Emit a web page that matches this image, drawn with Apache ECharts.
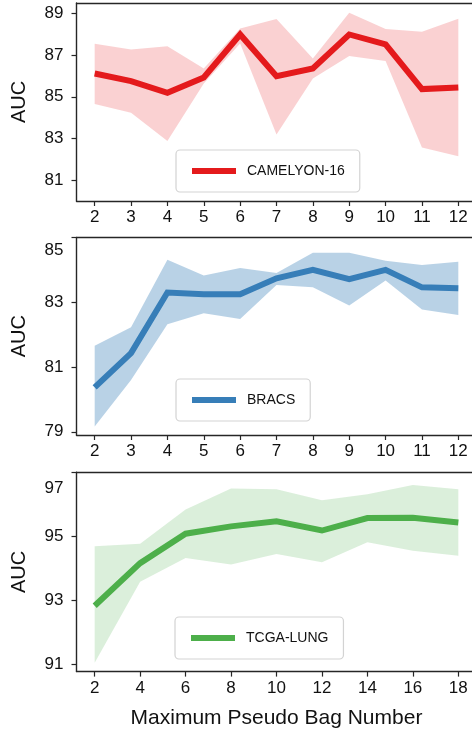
<!DOCTYPE html>
<html>
<head>
<meta charset="utf-8">
<script src="https://cdn.jsdelivr.net/npm/echarts@6/dist/echarts.min.js"></script>
<style>
html,body{margin:0;padding:0;background:#fff;}
#chart{width:472px;height:731px;}
</style>
</head>
<body>
<div id="chart"></div>
<script>
// ---- data ----
const xs12 = [2, 3, 4, 5, 6, 7, 8, 9, 10, 11, 12];
const camMean  = [86.12, 85.75, 85.19, 85.93, 87.99, 85.99, 86.36, 87.99, 87.51, 85.37, 85.45];
const camUpper = [87.54, 87.27, 87.43, 86.36, 88.28, 88.73, 86.84, 89.03, 88.25, 88.12, 88.74];
const camLower = [84.65, 84.23, 82.88, 85.64, 87.56, 83.19, 85.88, 86.96, 86.72, 82.57, 82.15];

const bracsMean  = [80.37, 81.43, 83.30, 83.25, 83.25, 83.74, 84.00, 83.71, 84.00, 83.46, 83.43];
const bracsUpper = [81.66, 82.23, 84.31, 83.83, 84.06, 83.90, 84.53, 84.53, 84.28, 84.15, 84.25];
const bracsLower = [79.16, 80.60, 82.32, 82.66, 82.48, 83.53, 83.46, 82.90, 83.67, 82.78, 82.61];

const xs18 = [2, 4, 6, 8, 10, 12, 14, 16, 18];
const lungMean  = [92.83, 94.16, 95.08, 95.31, 95.47, 95.18, 95.57, 95.58, 95.43];
const lungUpper = [94.69, 94.77, 95.84, 96.49, 96.47, 96.13, 96.31, 96.60, 96.47];
const lungLower = [91.05, 93.58, 94.32, 94.12, 94.45, 94.19, 94.81, 94.55, 94.39];

const yTicks1 = [81, 83, 85, 87, 89];
const yTicks2 = [79, 81, 83, 85];
const yTicks3 = [91, 93, 95, 97];

const names = ['CAMELYON-16', 'BRACS', 'TCGA-LUNG'];
const colors = ['#e41a1c', '#377eb8', '#4daf4a'];
const fills = ['rgba(228,26,28,0.2)', 'rgba(55,126,184,0.35)', 'rgba(77,175,74,0.2)'];

// ---- layout ----
const FONT = 'Liberation Sans, Arial, sans-serif';
const SPINE = {color: '#262626', width: 1.4};
const grids = [
  {left: 76.5, top: 3, width: 400, height: 198},
  {left: 76.5, top: 237.5, width: 400, height: 197.5},
  {left: 76.5, top: 472.3, width: 400, height: 199.3}
].map(g => Object.assign(g, {outerBoundsMode: 'none', containLabel: false}));

function xAxisCfg(i, xs, min, max, withName) {
  const a = {
    type: 'value', gridIndex: i, min: min, max: max, position: 'bottom',
    axisLine: {show: true, onZero: false, lineStyle: SPINE},
    splitLine: {show: false},
    axisTick: {show: true, length: 5, customValues: xs, lineStyle: {color: '#262626', width: 1.2}},
    axisLabel: {customValues: xs, fontSize: 17, color: '#111', fontFamily: FONT, margin: 8}
  };
  if (withName) {
    a.name = 'Maximum Pseudo Bag Number';
    a.nameLocation = 'middle';
    a.nameGap = 36;
    a.nameTextStyle = {fontSize: 21, color: '#111', fontFamily: FONT};
  }
  return a;
}
function topAxisCfg(i, min, max) {
  return {
    type: 'value', gridIndex: i, min: min, max: max, position: 'top',
    axisLine: {show: true, onZero: false, lineStyle: SPINE},
    axisTick: {show: false}, axisLabel: {show: false}, splitLine: {show: false}
  };
}
function yAxisCfg(i, ticks, min, max, topShift) {
  const top = ticks[ticks.length - 1];
  return {
    type: 'value', gridIndex: i, min: min, max: max, position: 'left',
    axisLine: {show: true, onZero: false, lineStyle: SPINE},
    splitLine: {show: false},
    axisTick: {show: true, length: 5, customValues: ticks, lineStyle: {color: '#262626', width: 1.2}},
    axisLabel: {
      customValues: ticks, fontSize: 17, color: '#111', fontFamily: FONT, margin: 13,
      formatter: v => (topShift && v === top) ? '{t|' + v + '}' : String(v),
      rich: {t: {fontSize: 17, color: '#111', fontFamily: FONT, padding: [topShift * 2, 0, 0, 0]}}
    },
    name: 'AUC', nameLocation: 'middle', nameGap: 47, nameRotate: 90,
    nameTextStyle: {fontSize: 20, color: '#111', fontFamily: FONT}
  };
}

function bandSeries(i, xs, lower, upper) {
  return {
    type: 'custom', xAxisIndex: i, yAxisIndex: i, z: 1, silent: true,
    name: names[i] + ' band',
    data: xs.map((x, k) => [x, lower[k], upper[k]]),
    renderItem: function (params, api) {
      if (params.dataIndex !== 0) return null;
      const pts = [];
      for (let k = 0; k < xs.length; k++) pts.push(api.coord([xs[k], upper[k]]));
      for (let k = xs.length - 1; k >= 0; k--) pts.push(api.coord([xs[k], lower[k]]));
      return {type: 'polygon', shape: {points: pts}, style: {fill: fills[i], stroke: null}};
    }
  };
}
function meanSeries(i, xs, mean) {
  return {
    type: 'line', name: names[i], xAxisIndex: i, yAxisIndex: i, z: 5,
    data: xs.map((x, k) => [x, mean[k]]),
    showSymbol: false, symbol: 'none',
    color: colors[i],
    lineStyle: {width: 6, color: colors[i], cap: 'butt', join: 'miter'}
  };
}
function legendCfg(i, left, top) {
  return {
    data: [names[i]], left: left, top: top, orient: 'horizontal',
    icon: 'rect', itemWidth: 44, itemHeight: 6,
    padding: [14, 15, 14, 16],
    borderColor: '#d3d3d3', borderWidth: 1.2, borderRadius: 4,
    backgroundColor: 'rgba(255,255,255,0.8)',
    textStyle: {fontSize: 14, color: '#111', fontFamily: FONT, padding: [0, 0, 0, 6]},
    selectedMode: false
  };
}

const chart = echarts.init(document.getElementById('chart'), null, {renderer: 'canvas'});
chart.setOption({
  animation: false,
  backgroundColor: '#fff',
  grid: grids,
  xAxis: [
    xAxisCfg(0, xs12, 1.5, 12.5, false),
    xAxisCfg(1, xs12, 1.5, 12.5, false),
    xAxisCfg(2, xs18, 1.2, 18.8, true),
    topAxisCfg(0, 1.5, 12.5),
    topAxisCfg(1, 1.5, 12.5),
    topAxisCfg(2, 1.2, 18.8)
  ],
  yAxis: [
    yAxisCfg(0, yTicks1, 80, 89.5, 0),
    yAxisCfg(1, yTicks2, 78.9, 85.0, 13),
    yAxisCfg(2, yTicks3, 90.77, 97.0, 16)
  ],
  legend: [legendCfg(0, 176, 150), legendCfg(1, 176, 379), legendCfg(2, 175, 617)],
  series: [
    bandSeries(0, xs12, camLower, camUpper), meanSeries(0, xs12, camMean),
    bandSeries(1, xs12, bracsLower, bracsUpper), meanSeries(1, xs12, bracsMean),
    bandSeries(2, xs18, lungLower, lungUpper), meanSeries(2, xs18, lungMean)
  ]
});
</script>
</body>
</html>
